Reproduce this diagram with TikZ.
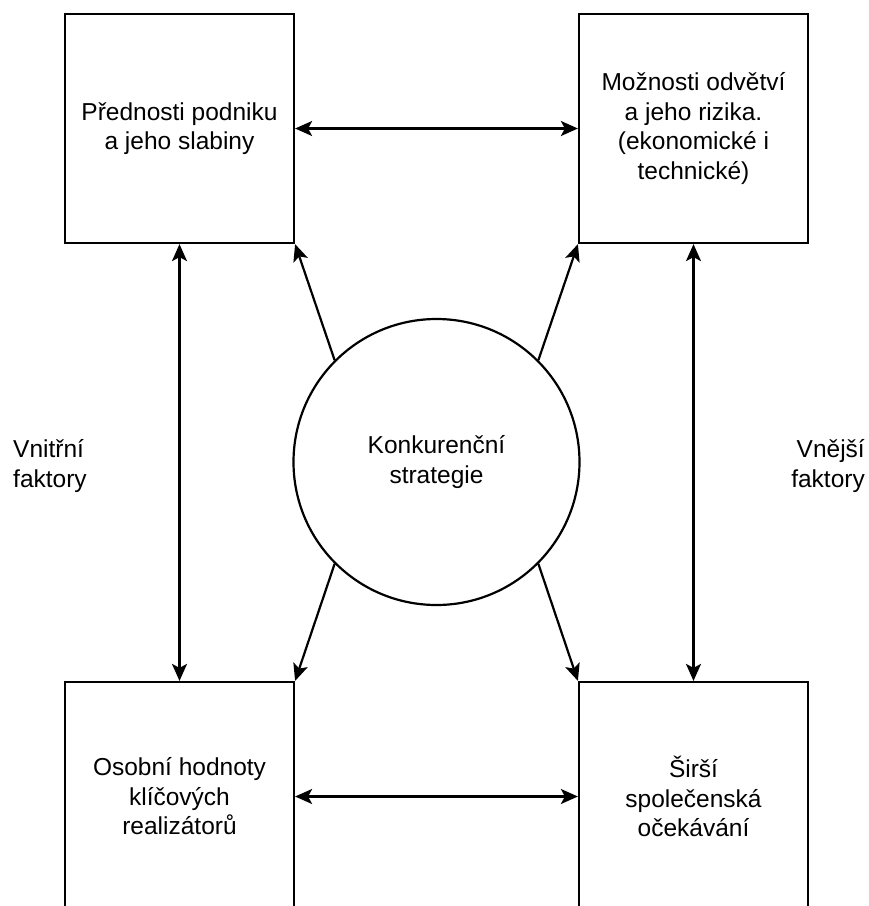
\documentclass[tikz,border=0pt]{standalone}
\usepackage{fontspec}
\setmainfont{Liberation Sans}
\usetikzlibrary{arrows.meta}
\begin{document}
\begin{tikzpicture}[x=1pt,y=-1pt,
  box/.style={draw,line width=2.2pt,minimum width=229pt,minimum height=229pt,inner sep=0pt,align=center,font=\fontsize{24.5}{29.5}\selectfont},
  circ/.style={draw,line width=2.2pt,circle,minimum size=286pt,inner sep=0pt,align=center,font=\fontsize{24.5}{29.5}\selectfont},
  lbl/.style={inner sep=0pt,font=\fontsize{24.5}{29.5}\selectfont},
  tip/.style={},
  arr/.style={line width=2.2pt,-{Stealth[length=17pt,width=15pt,inset=4pt]}},
  darr/.style={line width=2.2pt,{Stealth[length=17pt,width=15pt,inset=4pt]}-{Stealth[length=17pt,width=15pt,inset=4pt]}}]
\clip (0,0) rectangle (869,906);
\fill[white] (0,0) rectangle (869,906);
\node[box] (TL) at (179.5,128.5) {Přednosti podniku\\a jeho slabiny};
\node[box] (TR) at (693.5,128.5) {Možnosti odvětví\\a jeho rizika.\\(ekonomické i\\technické)};
\node[box] (BL) at (179.5,796.5) {Osobní hodnoty\\klíčových\\realizátorů};
\node[box] (BR) at (693.5,796.5) {Širší\\společenská\\očekávání};
\node[circ] (C) at (436.5,462) {Konkurenční\\strategie};
\node[lbl,anchor=west,align=left] (L) at (13,466) {Vnitřní\\faktory};
\node[lbl,anchor=east,align=right] (R) at (865,466) {Vnější\\faktory};
\draw[darr] (TL.east) -- (TR.west);
\draw[darr] (BL.east) -- (BR.west);
\draw[darr] (TL.south) -- (BL.north);
\draw[darr] (TR.south) -- (BR.north);
\draw[arr] (C.north west) -- (TL.south east);
\draw[arr] (C.north east) -- (TR.south west);
\draw[arr] (C.south west) -- (BL.north east);
\draw[arr] (C.south east) -- (BR.north west);
\end{tikzpicture}
\end{document}
